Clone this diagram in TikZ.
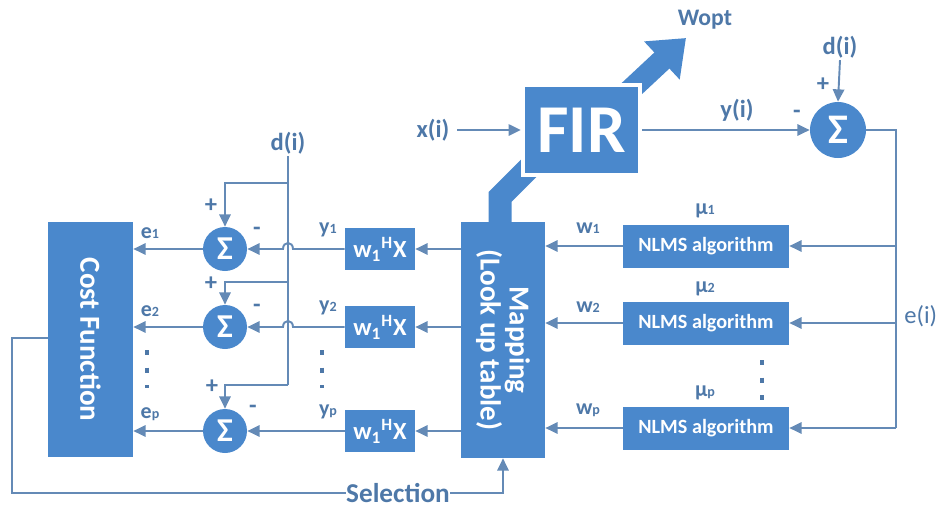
\documentclass[tikz,border=0pt]{standalone}
\usepackage{fontspec}
\setmainfont{Carlito}
\usetikzlibrary{arrows.meta}
\definecolor{boxblue}{RGB}{74,136,204}
\definecolor{lineblue}{RGB}{100,138,182}
\definecolor{txtblue}{RGB}{78,120,168}
\newcommand\smidx[1]{{\fontsize{8}{8}\selectfont #1}}
\newcommand\fsz[1]{\fontsize{#1}{#1}\selectfont}
\begin{document}
\begin{tikzpicture}[x=0.02cm,y=-0.02cm,
  box/.style={fill=boxblue, text=white, font=\bfseries, inner sep=0pt},
  boxtxt/.style={text=white, font=\bfseries\fsz{16.5}, align=center, inner sep=0pt},
  sumL/.style={circle, fill=boxblue, minimum size=0.88cm, text=white, font=\bfseries\fsz{19}, inner sep=0pt},
  lbl/.style={text=txtblue, font=\bfseries\fsz{14}, inner sep=1pt},
  slbl/.style={text=txtblue, font=\bfseries\fsz{12.5}, inner sep=1pt},
  ln/.style={draw=lineblue, line width=1.1pt},
  arr/.style={draw=lineblue, line width=1.1pt, -{Triangle[length=7pt,width=6.5pt]}},
  dotsty/.style={draw=txtblue, line width=1.8pt, dash pattern=on 3pt off 7pt},
  fat/.style={draw=boxblue, line width=0.46cm}
]
\useasboundingbox (0,0) rectangle (941,508);

% thick pipe Mapping -> FIR and Wopt arrow (behind boxes)
\draw[fat] (500,226) -- (500,197) -- (534,163);
\draw[fat, line width=0.44cm, -{Triangle[width=1.0cm,length=0.66cm]}] (626,94) -- (686,38);

% main boxes
\node[box, minimum width=1.70cm, minimum height=4.70cm] (cf) at (90.5,339.5) {};
\node[boxtxt, rotate=-90] at (cf.center) {Cost Function};
\node[box, minimum width=1.68cm, minimum height=4.72cm] (map) at (503,340) {};
\node[boxtxt, rotate=-90] at (map.center) {Mapping\\(Look up table)};
\node[box, draw=white, line width=2.5pt, minimum width=2.34cm, minimum height=1.80cm, font=\bfseries\fsz{39}] (fir) at (581.5,130) {FIR};

% w boxes
\foreach \i/\yy in {1/249,2/327,3/431}{
  \node[box, minimum width=1.40cm, minimum height=0.84cm, font=\bfseries\fsz{14}] (wb\i) at (380,\yy) {w\textsubscript{1}\textsuperscript{H}X};
  \node[sumL] (s\i) at (225,\yy) {Σ};
}
% NLMS boxes
\foreach \i/\yy in {1/246,2/323,3/428}{
  \node[box, minimum width=3.32cm, minimum height=0.86cm, font=\bfseries\fsz{11.5}] (nl\i) at (706,\yy) {NLMS algorithm};
}
% right sum
\node[sumL, minimum size=1.12cm, font=\bfseries\fsz{24}] (sr) at (838,130) {Σ};

% left d(i) distribution
\node[lbl] (dl) at (288,143) {d(i)};
\draw[ln] (dl.south) -- (288,385) coordinate (dbot);
\draw[arr] (288,183) -| (s1.north);
\draw[arr] (288,282) -| (s2.north);
\draw[arr] (dbot) -| (s3.north);
\node[lbl] at (211,206) {+};
\node[lbl] at (211,284) {+};
\node[lbl] at (212,387) {+};
\node[lbl] at (257,231) {-};
\node[lbl] at (257,308) {-};
\node[lbl] at (253,409) {-};

% rows: w box -> sum (with jumps) -> cost function
\draw[arr] (wb1.west) -- (293,249) .. controls (293,241) and (283,241) .. (283,249) -- (s1.east);
\draw[arr] (wb2.west) -- (293,327) .. controls (293,319) and (283,319) .. (283,327) -- (s2.east);
\draw[arr] (wb3.west) -- (s3.east);
\foreach \i in {1,2,3}{
  \draw[arr] (s\i.west) -- (s\i.west -| cf.east);
  \draw[arr] (map.west |- wb\i) -- (wb\i.east);
  \draw[arr] (nl\i.west) -- (nl\i.west -| map.east);
}
\node[slbl] at (150,233) {e\smidx{1}};
\node[slbl] at (150,311) {e\smidx{2}};
\node[slbl] at (150,414) {e\smidx{p}};
\node[slbl] at (328,230) {y\smidx{1}};
\node[slbl] at (328,308) {y\smidx{2}};
\node[slbl] at (328,412) {y\smidx{p}};
\node[slbl] at (588,228) {w\smidx{1}};
\node[slbl] at (588,307) {w\smidx{2}};
\node[slbl] at (588,410) {w\smidx{p}};
\node[slbl] at (705,211) {μ\smidx{1}};
\node[slbl] at (705,289) {μ\smidx{2}};
\node[slbl] at (705,393) {μ\smidx{p}};

% dots
\draw[dotsty] (147,350) -- (147,388);
\draw[dotsty] (322,350) -- (322,388);
\draw[dotsty] (762,360) -- (762,400);

% FIR input/output
\node[lbl] (xi) at (433,130) {x(i)};
\draw[arr] (xi.east) ++(6,0) -- (fir.west);
\draw[arr] (fir.east) -- (sr.west);
\node[lbl] at (737,110) {y(i)};
\node[lbl] (dr) at (840,47) {d(i)};
\draw[arr] (dr.south) -- (sr.north);
\node[lbl] at (823,85) {+};
\node[lbl] at (797,114) {-};
\node[lbl, font=\bfseries\fsz{13.5}] at (705,20) {Wopt};

% feedback e(i)
\coordinate (fbr) at (896,130);
\coordinate (fb3) at (896,428);
\draw[ln] (sr.east) -- (fbr) -- (fb3);
\draw[arr] (fb3) -- (nl3.east);
\draw[arr] (fbr |- nl1) -- (nl1.east);
\draw[arr] (fbr |- nl2) -- (nl2.east);
\node[text=txtblue, font=\fsz{14}, anchor=west, inner sep=0pt] at (904,316) {e(i)};

% selection loop
\coordinate (sl0) at (12,338);
\node[lbl, font=\bfseries\fsz{15.5}, inner sep=0pt] (sel) at (398,493) {Selection};
\draw[ln] (cf.west |- sl0) -- (sl0) |- (sel.west);
\draw[arr] (sel.east) -| (map.south);
\end{tikzpicture}
\end{document}
